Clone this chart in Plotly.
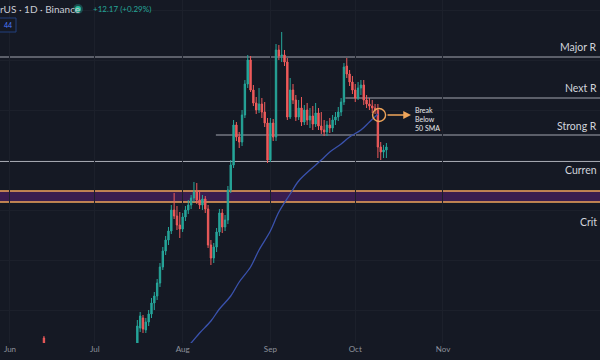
import pandas as pd
import plotly.graph_objects as go

# ---------------- data ----------------
candle_start = "2025-07-16"
opens = [2100, 2320, 2420, 2300, 2380, 2460, 2570, 2640, 2770, 2930,
         3090, 3200, 3290, 3500, 3440, 3350, 3310, 3430, 3500, 3550,
         3620, 3680, 3600, 3550, 3610, 3510, 3150, 3020, 3130, 3280,
         3470, 3330, 3400, 3700, 3950, 4350, 4230, 4180, 4450, 4760,
         5000, 4700, 4570, 4500, 4560, 4480, 4370, 4000, 4370, 4230,
         5100, 5040, 5050, 4980, 4430, 4700, 4600, 4430, 4520, 4380,
         4500, 4400, 4440, 4360, 4470, 4340, 4300, 4280, 4350, 4320,
         4400, 4430, 4480, 4580, 4940, 4860, 4780, 4700, 4620, 4720,
         4750, 4600, 4560, 4540, 4520, 4500, 4130, 4080, 4100]
closes = [2340, 2440, 2310, 2380, 2460, 2570, 2640, 2770, 2930, 3090,
          3200, 3290, 3500, 3440, 3350, 3310, 3430, 3500, 3550, 3620,
          3680, 3600, 3550, 3610, 3510, 3150, 3020, 3130, 3280, 3470,
          3330, 3400, 3700, 3950, 4350, 4230, 4180, 4450, 4760, 5000,
          4700, 4570, 4500, 4560, 4480, 4370, 4000, 4370, 4230, 5100,
          5040, 5050, 4980, 4430, 4700, 4600, 4430, 4520, 4380, 4500,
          4400, 4440, 4360, 4470, 4340, 4300, 4280, 4350, 4320, 4400,
          4430, 4480, 4580, 4930, 4860, 4780, 4700, 4620, 4720, 4750,
          4600, 4560, 4540, 4520, 4500, 4130, 4080, 4100, 4130]
highs = [2400, 2480, 2450, 2420, 2500, 2620, 2680, 2810, 2970, 3130,
         3240, 3330, 3550, 3670, 3540, 3480, 3470, 3540, 3600, 3650,
         3780, 3770, 3700, 3650, 3640, 3550, 3200, 3170, 3320, 3510,
         3510, 3450, 3740, 4000, 4400, 4380, 4280, 4500, 4800, 5050,
         5040, 4750, 4630, 4720, 4620, 4580, 4420, 4420, 4410, 5160,
         5150, 5280, 5100, 5020, 4820, 4760, 4650, 4600, 4630, 4550,
         4570, 4520, 4540, 4570, 4520, 4480, 4400, 4390, 4420, 4450,
         4480, 4530, 4620, 4970, 5020, 4900, 4840, 4760, 4780, 4800,
         4800, 4650, 4620, 4600, 4560, 4560, 4180, 4150, 4170]
lows = [2060, 2280, 2270, 2270, 2340, 2420, 2500, 2600, 2730, 2900,
        3050, 3150, 3260, 3410, 3300, 3220, 3280, 3390, 3460, 3510,
        3580, 3560, 3510, 3500, 3470, 3120, 2950, 2970, 3080, 3240,
        3270, 3290, 3360, 3670, 3920, 4190, 4120, 4140, 4420, 4720,
        4680, 4540, 4460, 4470, 4420, 4330, 3970, 3980, 4190, 4190,
        5000, 4980, 4940, 4400, 4410, 4560, 4390, 4400, 4340, 4350,
        4350, 4320, 4300, 4330, 4300, 4260, 4240, 4240, 4270, 4280,
        4350, 4390, 4440, 4550, 4820, 4740, 4660, 4580, 4600, 4650,
        4550, 4520, 4500, 4470, 4460, 4020, 4000, 4020, 4020]

early_date = ["2025-06-13"]
early_open, early_high, early_low, early_close = [2220], [2240], [2050], [2110]

sma_dates = ["2025-08-02", "2025-08-04", "2025-08-07", "2025-08-11", "2025-08-14",
             "2025-08-18", "2025-08-21", "2025-08-25", "2025-08-28", "2025-09-01",
             "2025-09-04", "2025-09-08", "2025-09-11", "2025-09-15", "2025-09-19",
             "2025-09-22", "2025-09-26", "2025-09-29", "2025-10-03", "2025-10-06",
             "2025-10-09"]
sma_values = [2120, 2170, 2270, 2390, 2510, 2640, 2780, 2930, 3100, 3290,
              3480, 3660, 3790, 3900, 4000, 4080, 4160, 4230, 4300, 4380, 4460]

major_res = 5030
next_res = 4620
strong_res = 4250
current_sup = 3985
critical_top = 3690
critical_bottom = 3580

# right-edge labels as visible in the (cropped) chart
level_labels = ["Major R", "Next R", "Strong R", "Curren", "Crit"]
level_label_prices = [5130, 4720, 4340, 3900, 3380]

month_ticks = ["2025-06-01", "2025-07-01", "2025-08-01", "2025-09-01", "2025-10-01", "2025-11-01"]
month_labels = ["Jun", "Jul", "Aug", "Sep", "Oct", "Nov"]

header_text = "rUS · 1D · Binance"
change_text = "+12.17 (+0.29%)"
break_text = "Break<br>Below<br>50 SMA"
break_date = "2025-10-09 10:00"
break_price = 4450
arrow_head_date = "2025-10-20 17:00"

# ---------------- styling ----------------
BG = "#151924"
UP = "#26a69a"
DOWN = "#ef5b5b"
LINE = "#a3a6af"
ORANGE = "#f0a55a"
FONT = "Lato"

dates = pd.date_range(candle_start, periods=len(opens), freq="D")

fig = go.Figure()
fig.add_trace(go.Candlestick(
    x=early_date, open=early_open, high=early_high, low=early_low, close=early_close,
    increasing=dict(line=dict(color=UP, width=1), fillcolor=UP),
    decreasing=dict(line=dict(color=DOWN, width=1), fillcolor=DOWN),
    showlegend=False, hoverinfo="skip"))
fig.add_trace(go.Candlestick(
    x=dates, open=opens, high=highs, low=lows, close=closes,
    increasing=dict(line=dict(color=UP, width=1), fillcolor=UP),
    decreasing=dict(line=dict(color=DOWN, width=1), fillcolor=DOWN),
    showlegend=False, hoverinfo="skip"))
fig.add_trace(go.Scatter(
    x=sma_dates, y=sma_values, mode="lines", line=dict(color="#3a52ad", width=1.3, shape="spline"),
    showlegend=False, hoverinfo="skip"))

shapes = []
shapes.append(dict(type="rect", xref="paper", x0=0, x1=1, yref="y", y0=critical_bottom, y1=critical_top,
                   fillcolor="#3a1d4f", line=dict(width=0), layer="below"))
for yv in (critical_top, critical_bottom):
    shapes.append(dict(type="line", xref="paper", x0=0, x1=1, yref="y", y0=yv, y1=yv,
                       line=dict(color=ORANGE, width=1.6), layer="below"))
shapes.append(dict(type="line", xref="paper", x0=0, x1=1, yref="y", y0=major_res, y1=major_res,
                   line=dict(color=LINE, width=1), layer="below"))
shapes.append(dict(type="line", xref="x", x0="2025-09-27 12:00", x1="2026-02-01", yref="y",
                   y0=next_res, y1=next_res, line=dict(color=LINE, width=1), layer="below"))
shapes.append(dict(type="line", xref="x", x0="2025-08-12 18:00", x1="2026-02-01", yref="y",
                   y0=strong_res, y1=strong_res, line=dict(color=LINE, width=1), layer="below"))
shapes.append(dict(type="line", xref="paper", x0=0, x1=1, yref="y", y0=current_sup, y1=current_sup,
                   line=dict(color=LINE, width=1), layer="below"))
shapes.append(dict(type="circle", xref="x", yref="y", xsizemode="pixel", ysizemode="pixel",
                   xanchor=break_date, yanchor=break_price, x0=-6.5, x1=6.5, y0=-6.5, y1=6.5,
                   line=dict(color=ORANGE, width=1.4)))
shapes.append(dict(type="circle", xref="paper", yref="paper", xsizemode="pixel", ysizemode="pixel",
                   xanchor=78 / 600, yanchor=1 - 9 / 343, x0=-5, x1=5, y0=-5, y1=5,
                   fillcolor="rgba(38,166,154,0.35)", line=dict(width=0)))
shapes.append(dict(type="circle", xref="paper", yref="paper", xsizemode="pixel", ysizemode="pixel",
                   xanchor=78 / 600, yanchor=1 - 9 / 343, x0=-3, x1=3, y0=-3, y1=3,
                   fillcolor="#2bbf9f", line=dict(width=0)))
shapes.append(dict(type="rect", xref="paper", yref="paper", x0=-0.01, x1=16 / 600,
                   y0=1 - 32 / 343, y1=1 - 18 / 343, fillcolor=BG,
                   line=dict(color="#23407f", width=1)))

annotations = []
label_font = dict(family=FONT, size=10.5, color="#d1d4dc")
for txt, yv in zip(level_labels, level_label_prices):
    annotations.append(dict(text=txt, xref="paper", x=0.998, xanchor="right", yref="y", y=yv,
                            yanchor="middle", showarrow=False, font=label_font))
annotations.append(dict(text=break_text, xref="paper", x=413 / 600, xanchor="left", yref="y", y=4415,
                        yanchor="middle", showarrow=False, align="left",
                        font=dict(family=FONT, size=7, color="#e8e8ea")))
annotations.append(dict(text="", x=arrow_head_date, y=break_price, xref="x", yref="y",
                        ax=-25, ay=0, showarrow=True, arrowhead=2, arrowsize=1.2, arrowwidth=1.3,
                        arrowcolor=ORANGE))
annotations.append(dict(text=header_text, xref="paper", x=-0.003, xanchor="left", yref="paper",
                        y=1 - 9 / 343, yanchor="middle", showarrow=False,
                        font=dict(family=FONT, size=10, color="#c9ccd4")))
annotations.append(dict(text=change_text, xref="paper", x=91 / 600, xanchor="left", yref="paper",
                        y=1 - 9 / 343, yanchor="middle", showarrow=False,
                        font=dict(family=FONT, size=8, color="#26a69a")))
annotations.append(dict(text="44", xref="paper", x=8 / 600, xanchor="center", yref="paper",
                        y=1 - 25 / 343, yanchor="middle", showarrow=False,
                        font=dict(family=FONT, size=7, color="#4d7cff")))

fig.update_layout(
    width=600, height=360,
    margin=dict(l=0, r=0, t=0, b=17),
    paper_bgcolor=BG, plot_bgcolor=BG,
    shapes=shapes, annotations=annotations,
    showlegend=False,
    xaxis=dict(type="date", range=["2025-05-28 11:17", "2025-12-26 11:30"],
               rangeslider=dict(visible=False), showgrid=True, gridcolor="#1c202b",
               tickvals=month_ticks, ticktext=month_labels, ticks="",
               tickfont=dict(family=FONT, size=8, color="#8e929c"),
               zeroline=False, showline=False, fixedrange=True),
    yaxis=dict(range=[2170, 5600], showticklabels=False, showgrid=True, gridcolor="#1c202b",
               dtick=500, zeroline=False, showline=False, fixedrange=True),
)

fig.write_html("out.html", config={"displayModeBar": False},
               post_script="document.body.style.margin='0';document.body.style.overflow='hidden';")
